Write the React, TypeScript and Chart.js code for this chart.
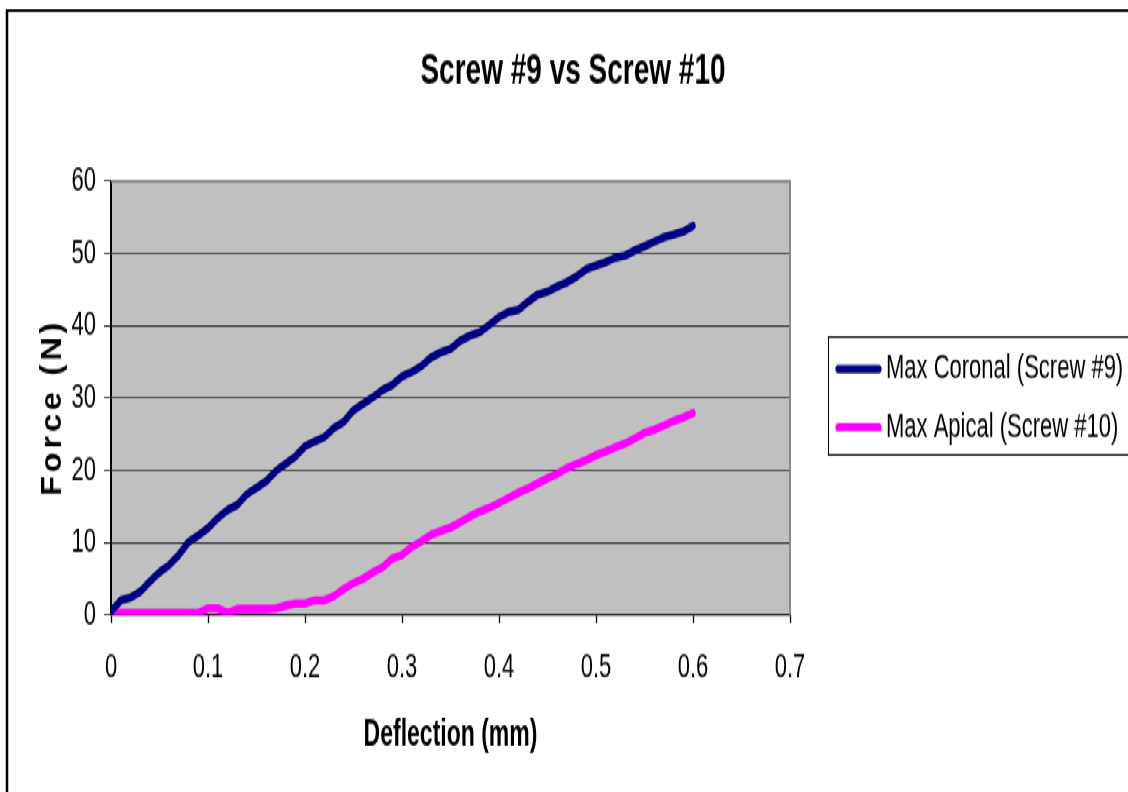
import React, { useEffect, useRef } from "react";
import { Chart, registerables } from "chart.js";

Chart.register(...registerables);

const W = 1128;
const H = 511;
const S = 792 / H; // vertical stretch of the original picture
const FONT = "'Liberation Sans', Arial, Helvetica, sans-serif";

const chartTitle = "Screw #9 vs Screw #10";
const xAxisTitle = "Deflection (mm)";
const yAxisTitle = "Force (N)";
const seriesNames = ["Max Coronal (Screw #9)", "Max Apical (Screw #10)"];
const seriesColors = ["#000080", "#FF00FF"];
const xTickLabels = ["0", "0.1", "0.2", "0.3", "0.4", "0.5", "0.6", "0.7"];
const yTickLabels = ["0", "10", "20", "30", "40", "50", "60"];

const deflection = [
  0, 0.01, 0.02, 0.03, 0.04, 0.05, 0.06, 0.07, 0.08, 0.09,
  0.1, 0.11, 0.12, 0.13, 0.14, 0.15, 0.16, 0.17, 0.18, 0.19,
  0.2, 0.21, 0.22, 0.23, 0.24, 0.25, 0.26, 0.27, 0.28, 0.29,
  0.3, 0.31, 0.32, 0.33, 0.34, 0.35, 0.36, 0.37, 0.38, 0.39,
  0.4, 0.41, 0.42, 0.43, 0.44, 0.45, 0.46, 0.47, 0.48, 0.49,
  0.5, 0.51, 0.52, 0.53, 0.54, 0.55, 0.56, 0.57, 0.58, 0.59,
  0.6,
];

const coronal = [
  0.5, 2.0, 2.4, 3.2, 4.6, 5.9, 6.9, 8.3, 10.1, 11.0,
  12.0, 13.4, 14.5, 15.2, 16.7, 17.6, 18.5, 19.9, 20.9, 21.9,
  23.3, 24.0, 24.6, 25.9, 26.7, 28.3, 29.2, 30.1, 31.1, 31.8,
  33.0, 33.6, 34.4, 35.6, 36.3, 36.8, 37.9, 38.6, 39.1, 40.1,
  41.2, 41.9, 42.2, 43.3, 44.3, 44.7, 45.4, 46.0, 46.8, 47.8,
  48.3, 48.8, 49.4, 49.7, 50.4, 51.0, 51.6, 52.2, 52.6, 53.0,
  53.8,
];

const apical = [
  0.3, 0.3, 0.3, 0.3, 0.3, 0.3, 0.3, 0.3, 0.3, 0.3,
  0.9, 0.9, 0.3, 0.8, 0.8, 0.8, 0.8, 0.9, 1.3, 1.6,
  1.6, 2.0, 2.0, 2.6, 3.6, 4.4, 5.0, 5.9, 6.6, 7.8,
  8.3, 9.4, 10.2, 11.1, 11.6, 12.1, 12.8, 13.6, 14.3, 14.8,
  15.5, 16.2, 16.9, 17.5, 18.2, 18.9, 19.5, 20.3, 20.9, 21.4,
  22.1, 22.6, 23.2, 23.7, 24.4, 25.2, 25.6, 26.2, 26.8, 27.3,
  27.9,
];

const py = (v: number) => v / S;

const decor = {
  id: "decor",
  beforeDraw(chart: any) {
    const { ctx, chartArea: a } = chart;
    ctx.save();
    ctx.fillStyle = "#ffffff";
    ctx.fillRect(0, 0, W, H);
    ctx.fillStyle = "#C0C0C0";
    ctx.fillRect(a.left, a.top, a.right - a.left, a.bottom - a.top);
    ctx.restore();
  },
  beforeDatasetsDraw(chart: any) {
    const { ctx, chartArea: a } = chart;
    ctx.save();
    ctx.strokeStyle = "#808080";
    ctx.lineWidth = 1.8;
    ctx.beginPath();
    ctx.moveTo(a.left, a.top);
    ctx.lineTo(a.right, a.top);
    ctx.lineTo(a.right, a.bottom);
    ctx.stroke();
    ctx.restore();
  },
  afterDraw(chart: any) {
    const { ctx } = chart;
    ctx.save();
    // outer frame
    ctx.strokeStyle = "#000";
    ctx.lineWidth = 2.5;
    ctx.beginPath();
    ctx.moveTo(7, H + 10);
    ctx.lineTo(7, py(10.7));
    ctx.stroke();
    ctx.lineWidth = 1.8;
    ctx.beginPath();
    ctx.moveTo(5.8, py(10.7));
    ctx.lineTo(W + 10, py(10.7));
    ctx.stroke();

    // title
    ctx.fillStyle = "#000";
    ctx.font = `bold 28px ${FONT}`;
    ctx.textAlign = "center";
    ctx.textBaseline = "middle";
    ctx.fillText(chartTitle, 573, py(71));

    // y title (rotated, spaced, compressed along its length)
    ctx.save();
    ctx.translate(52.5, py(409));
    ctx.rotate(-Math.PI / 2);
    ctx.scale(0.7, 1);
    ctx.font = `bold 30px ${FONT}`;
    (ctx as any).letterSpacing = "3.5px";
    ctx.textAlign = "center";
    ctx.textBaseline = "middle";
    ctx.fillText(yAxisTitle, 1.5, 0);
    ctx.restore();

    // legend
    const top = py(337);
    const bottom = py(455);
    ctx.strokeStyle = "#000";
    ctx.lineWidth = 1;
    ctx.strokeRect(828.5, top, 400, bottom - top);
    chart.data.datasets.forEach((ds: any, i: number) => {
      const y = py(369 + i * 58.3);
      ctx.strokeStyle = ds.borderColor;
      ctx.lineWidth = 5.2;
      ctx.lineCap = "round";
      ctx.beginPath();
      ctx.moveTo(838, y);
      ctx.lineTo(879, y);
      ctx.stroke();
      ctx.fillStyle = "#000";
      ctx.font = `22px ${FONT}`;
      ctx.textAlign = "left";
      ctx.textBaseline = "middle";
      ctx.fillText(ds.label, 886, y);
    });
    ctx.restore();
  },
};

export default function App() {
  const ref = useRef<HTMLCanvasElement | null>(null);

  useEffect(() => {
    if (!ref.current) return;
    const chart = new Chart(ref.current, {
      type: "line",
      data: {
        datasets: [
          {
            label: seriesNames[0],
            data: deflection.map((d, i) => ({ x: d, y: coronal[i] })),
            borderColor: seriesColors[0],
            backgroundColor: seriesColors[0],
          },
          {
            label: seriesNames[1],
            data: deflection.map((d, i) => ({ x: d, y: apical[i] })),
            borderColor: seriesColors[1],
            backgroundColor: seriesColors[1],
          },
        ],
      },
      options: {
        responsive: false,
        animation: false,
        devicePixelRatio: 1,
        layout: { padding: { left: 0, top: py(181), right: W - 790, bottom: 0 } },
        elements: {
          line: { borderWidth: 5.4, tension: 0, borderJoinStyle: "round", borderCapStyle: "round", fill: false },
          point: { radius: 0, hoverRadius: 0 },
        },
        plugins: {
          legend: { display: false },
          title: { display: false },
          tooltip: { enabled: false },
        },
        scales: {
          x: {
            type: "linear",
            min: 0,
            max: 0.7,
            afterFit: (s: any) => {
              s.height = H - py(615);
            },
            ticks: {
              stepSize: 0.1,
              autoSkip: false,
              maxRotation: 0,
              color: "#000",
              padding: 15.8,
              font: { family: FONT, size: 22 },
              callback: (v: any) => xTickLabels[Math.round(Number(v) * 10)],
            },
            grid: { drawOnChartArea: false, tickLength: 5.2, tickColor: "#000", tickWidth: 1.3 },
            border: { color: "#000", width: 1.3 },
            title: {
              display: true,
              text: xAxisTitle,
              color: "#000",
              font: { family: FONT, size: 23, weight: "bold" },
              padding: { top: 0, bottom: 23 },
            },
          },
          y: {
            type: "linear",
            min: 0,
            max: 60,
            afterFit: (s: any) => {
              s.width = 111;
            },
            ticks: {
              stepSize: 10,
              color: "#000",
              padding: 8,
              font: { family: FONT, size: 22 },
              callback: (v: any) => yTickLabels[Math.round(Number(v) / 10)],
            },
            grid: {
              color: (c: any) => (c.tick && c.tick.value === 60 ? "rgba(0,0,0,0)" : "#000"),
              lineWidth: 0.7,
              tickLength: 7,
              tickColor: "#000",
              tickWidth: 0.8,
            },
            border: { color: "#000", width: 2 },
          },
        },
      },
      plugins: [decor],
    } as any);
    return () => chart.destroy();
  }, []);

  return (
    <div
      style={{
        position: "fixed",
        left: 0,
        top: 0,
        width: W,
        height: H,
        transform: `scaleY(${S})`,
        transformOrigin: "0 0",
        background: "#fff",
      }}
    >
      <canvas ref={ref} width={W} height={H} style={{ display: "block", width: W, height: H }} />
    </div>
  );
}
